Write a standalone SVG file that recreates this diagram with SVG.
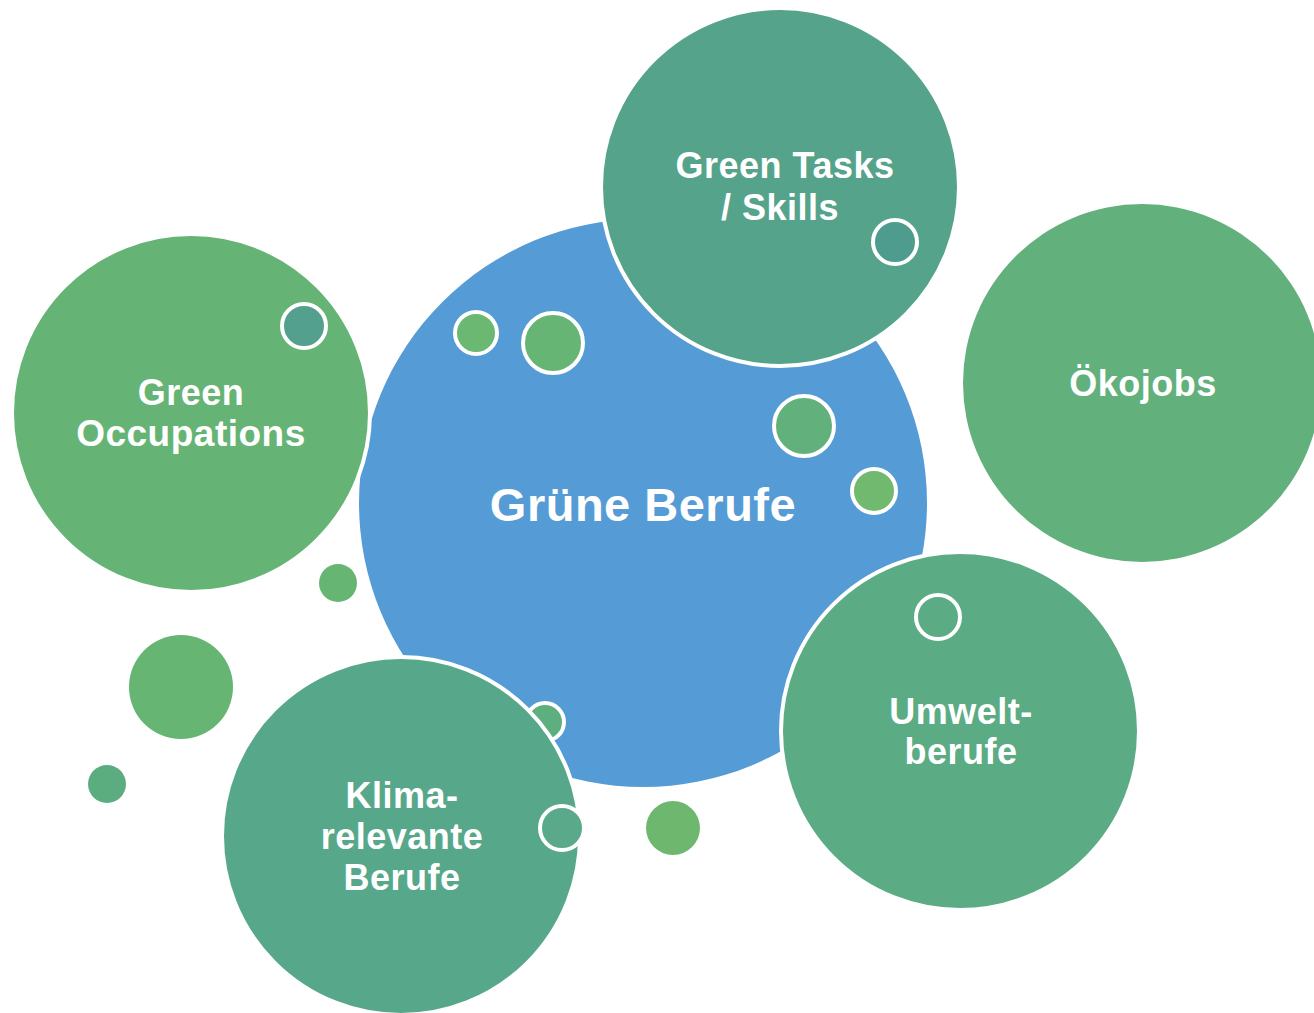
<svg xmlns="http://www.w3.org/2000/svg" width="1314" height="1013" viewBox="0 0 1314 1013">
<style>
.lbl{font-family:"Liberation Sans",Arial,sans-serif;font-weight:bold;fill:#fff;text-anchor:middle;letter-spacing:0.5px}
.big{stroke:#fff;stroke-width:4}
.dot{stroke:#fff;stroke-width:4}
</style>
<rect width="1314" height="1013" fill="#fff"/>
<g id="center">
<circle cx="643" cy="503" r="284" fill="#559BD5"/>
<circle cx="476" cy="333" r="21" class="dot" fill="#6BB872"/>
<circle cx="553" cy="343" r="30" class="dot" fill="#66B574"/>
<circle cx="804" cy="426" r="30" class="dot" fill="#62B07C"/>
<circle cx="874" cy="491" r="22" class="dot" fill="#70B96E"/>
<circle cx="545" cy="722" r="19" class="dot" fill="#5EAF80"/>
<text class="lbl" x="643" y="521" font-size="47" letter-spacing="0">Grüne Berufe</text>
</g>
<g id="deco">
<circle cx="338" cy="583" r="19" fill="#66B573"/>
<circle cx="181" cy="687" r="52" fill="#66B573"/>
<circle cx="107" cy="784" r="19" fill="#5BAD80"/>
<circle cx="673" cy="828" r="27" fill="#6EB76F"/>
</g>
<g id="tasks">
<circle cx="780" cy="187" r="179" class="big" fill="#55A38A"/>
<circle cx="895" cy="242" r="22" class="dot" fill="#4E9C8D"/>
<text class="lbl" x="785" y="178" font-size="36">Green Tasks</text>
<text class="lbl" x="780" y="220" font-size="36">/ Skills</text>
</g>
<g id="occupations">
<circle cx="191" cy="413" r="179" class="big" fill="#66B475"/>
<circle cx="304" cy="326" r="22" class="dot" fill="#53A08F"/>
<text class="lbl" x="191" y="405" font-size="36">Green</text>
<text class="lbl" x="191" y="446" font-size="37" letter-spacing="1.2">Occupations</text>
</g>
<g id="oekojobs">
<circle cx="1142" cy="383" r="179" fill="#62B07C"/>
<text class="lbl" x="1143" y="396" font-size="36">Ökojobs</text>
</g>
<g id="umwelt">
<circle cx="960" cy="731" r="179" class="big" fill="#5BAC85"/>
<circle cx="938" cy="617" r="22" class="dot" fill="#5BAC85"/>
<text class="lbl" x="961" y="724" font-size="36" letter-spacing="1">Umwelt-</text>
<text class="lbl" x="961" y="764" font-size="36" letter-spacing="1">berufe</text>
</g>
<g id="klima">
<circle cx="401" cy="836" r="179" class="big" fill="#57A88A"/>
<circle cx="562" cy="828" r="22" class="dot" fill="#59A98A"/>
<text class="lbl" x="402" y="808" font-size="36">Klima-</text>
<text class="lbl" x="402" y="849" font-size="36" letter-spacing="1.5">relevante</text>
<text class="lbl" x="402" y="890" font-size="36">Berufe</text>
</g>
<g id="connectors"/>
</svg>
